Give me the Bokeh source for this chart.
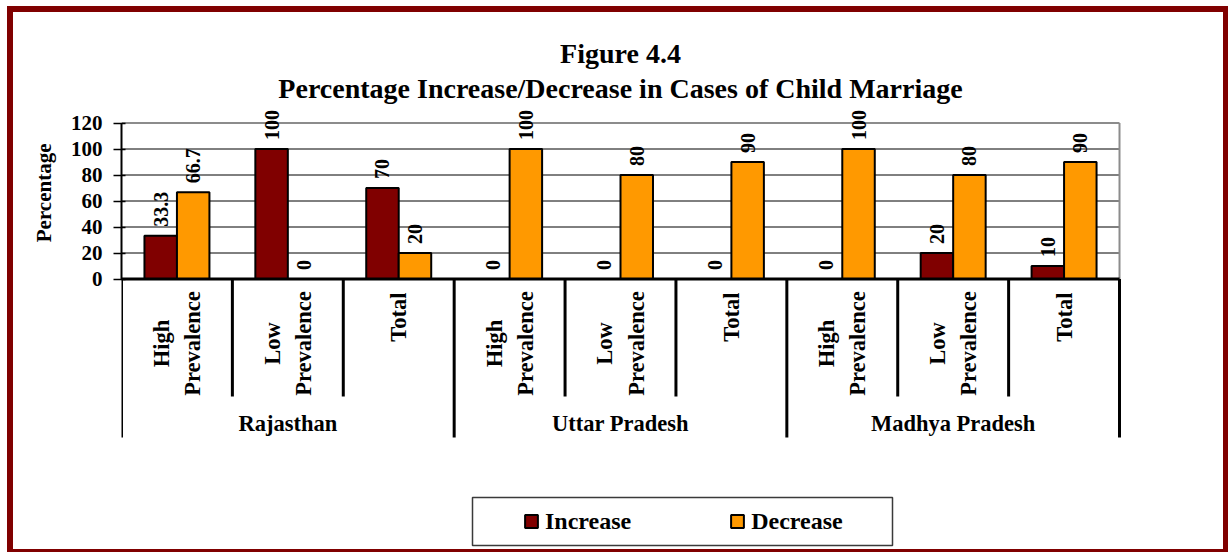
import math
from bokeh.plotting import figure
from bokeh.models import (ColumnDataSource, Range1d, FixedTicker, Legend, LegendItem, Title)
from bokeh.core.properties import value
from bokeh.embed import file_html
from bokeh.resources import INLINE

# ---------------- data ----------------
groups = ["Rajasthan", "Uttar Pradesh", "Madhya Pradesh"]
sub_labels = ["High\nPrevalence", "Low\nPrevalence", "Total"]
increase = [33.3, 100, 70, 0, 0, 0, 0, 20, 10]
decrease = [66.7, 0, 20, 100, 80, 90, 100, 80, 90]
y_ticks = [0, 20, 40, 60, 80, 100, 120]
series_names = ["Increase", "Decrease"]
series_colors = ["#800000", "#FF9900"]
title_lines = ["Figure 4.4", "Percentage Increase/Decrease in Cases of Child Marriage"]
y_title = "Percentage"

# ---------------- layout (pixels) ----------------
W, H = 1228, 552
LEFT = 121                # frame left (canvas px)
PX_X = 110.89             # px per category
Y0 = 278.5                # canvas y of value 0
PX_Y = 1.3                # px per percent
FONT = value("Liberation Serif")

def yd(cy):
    """canvas y (px, from top) -> data y"""
    return (Y0 - cy) / PX_Y

def xd(cx):
    """canvas x (px) -> data x"""
    return (cx - LEFT) / PX_X

n_sub = len(sub_labels)
n_cat = len(groups) * n_sub

p = figure(width=W, height=H, output_backend="svg", toolbar_location=None,
           x_range=Range1d(0, (W - LEFT) / PX_X), y_range=Range1d(yd(H), yd(0)),
           x_axis_location=None, min_border_left=LEFT, min_border_right=0,
           min_border_top=0, min_border_bottom=0)
p.outline_line_color = None
p.grid.visible = False
p.background_fill_color = None
p.border_fill_color = None
p.styles = {"box-shadow": "inset 7px 6px 0 0 #ffffff, inset 13px 12px 0 0 #800000, "
                          "inset -5px -3px 0 0 #800000",
            "background-color": "#ffffff"}

# y axis
ax = p.yaxis[0]
ax.ticker = FixedTicker(ticks=y_ticks)
ax.bounds = (y_ticks[0], y_ticks[-1])
ax.axis_line_width = 2
ax.axis_line_color = "black"
ax.major_tick_in = 4
ax.major_tick_out = 8
ax.major_tick_line_width = 1.5
ax.minor_tick_line_color = None
ax.major_label_standoff = 11
ax.major_label_text_font = "Liberation Serif"
ax.major_label_text_font_style = "bold"
ax.major_label_text_font_size = "21px"
ax.major_label_text_color = "black"

# y title (left panel title, placed beside the plot area)
p.add_layout(Title(text=y_title, align="right", offset=143, standoff=24,
                   text_font="Liberation Serif", text_font_style="bold",
                   text_font_size="21px", text_color="black"), "left")

# grid lines and plot-area border
grid_y = y_ticks[1:-1]
p.segment(x0=[0] * len(grid_y), x1=[n_cat] * len(grid_y), y0=grid_y, y1=grid_y,
          line_color="black", line_width=1)
top = y_ticks[-1]
p.segment(x0=[0, n_cat], x1=[n_cat, n_cat], y0=[top, 0], y1=[top, top],
          line_color="#8c8c8c", line_width=2)

# bars
centers = [i + 0.5 for i in range(n_cat)]
bw = 0.293
src = ColumnDataSource(dict(
    xi=[c - bw / 2 for c in centers], xd_=[c + bw / 2 for c in centers],
    inc=increase, dec=decrease,
    inc_t=[f"{v:g}" for v in increase], dec_t=[f"{v:g}" for v in decrease]))
r_inc = p.vbar(x="xi", top="inc", width=bw, source=src, fill_color=series_colors[0],
               line_color="black", line_width=2)
r_dec = p.vbar(x="xd_", top="dec", width=bw, source=src, fill_color=series_colors[1],
               line_color="black", line_width=2)

# value labels
for xcol, tcol, ycol in (("xi", "inc_t", "inc"), ("xd_", "dec_t", "dec")):
    p.text(x=xcol, y=ycol, text=tcol, source=src, angle=math.pi / 2,
           text_align="left", text_baseline="middle", y_offset=-9,
           text_font=FONT, text_font_style="bold", text_font_size="20px",
           text_color="black")

# category box lines
p.segment(x0=[0], x1=[n_cat], y0=[0], y1=[0], line_color="black", line_width=3)
sub_b = [i for i in range(1, n_cat) if i % n_sub != 0]
grp_b = [i for i in range(0, n_cat + 1) if i % n_sub == 0]
p.segment(x0=sub_b, x1=sub_b, y0=[0] * len(sub_b), y1=[yd(396)] * len(sub_b),
          line_color="black", line_width=3)
p.segment(x0=grp_b, x1=grp_b, y0=[0] * len(grp_b), y1=[yd(437)] * len(grp_b),
          line_color="black", line_width=3)

# sub-category labels (rotated)
ml_x, ml_t, sl_x, sl_t = [], [], [], []
line_gap = 0.14
for g in range(len(groups)):
    for s, lab in enumerate(sub_labels):
        c = centers[g * n_sub + s]
        lines = lab.split("\n")
        if len(lines) == 1:
            sl_x.append(c)
            sl_t.append(lines[0])
        else:
            k = len(lines)
            for j, ln in enumerate(lines):
                ml_x.append(c + (j - (k - 1) / 2) * 2 * line_gap)
                ml_t.append(ln)
p.text(x=ml_x, y=[yd(343)] * len(ml_x), text=ml_t, angle=math.pi / 2,
       text_align="center", text_baseline="middle", text_font=FONT,
       text_font_style="bold", text_font_size="22.5px", text_color="black")
p.text(x=sl_x, y=[yd(292)] * len(sl_x), text=sl_t, angle=math.pi / 2,
       text_align="right", text_baseline="middle", text_font=FONT,
       text_font_style="bold", text_font_size="22.5px", text_color="black")

# group labels
gx = [g * n_sub + n_sub / 2 for g in range(len(groups))]
p.text(x=gx, y=[yd(423)] * len(gx), text=groups, text_align="center",
       text_baseline="middle", text_font=FONT, text_font_style="bold",
       text_font_size="22.5px", text_color="black")

# title
p.text(x=[n_cat / 2] * 2, y=[yd(53), yd(88)], text=title_lines, text_align="center",
       text_baseline="alphabetic", text_font=FONT, text_font_style="bold",
       text_font_size="28px", text_color="black")

# legend box
p.quad(left=[xd(472)], right=[xd(892)], top=[yd(497)], bottom=[yd(545)],
       fill_color=None, line_color="#3a3a3a", line_width=1.5)
legend = Legend(items=[LegendItem(label=series_names[0], renderers=[r_inc]),
                       LegendItem(label=series_names[1], renderers=[r_dec])],
                orientation="horizontal", location=(402, 17), padding=0, margin=0,
                spacing=98, glyph_width=16, glyph_height=16, label_standoff=6,
                label_height=28, border_line_color=None, background_fill_alpha=0,
                label_text_font="Liberation Serif", label_text_font_style="bold",
                label_text_font_size="24px", label_text_color="black")
p.add_layout(legend)

open("out.html", "w").write(file_html(p, INLINE))
